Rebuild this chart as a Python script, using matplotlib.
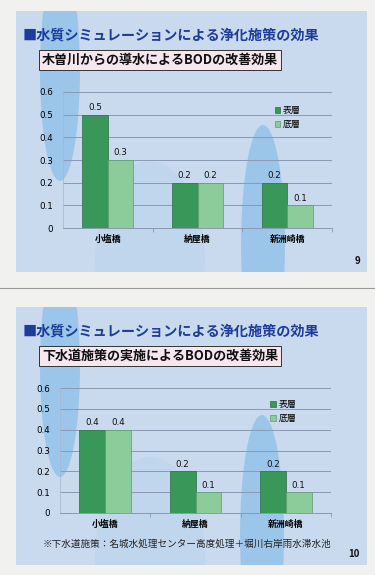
import matplotlib
matplotlib.use('Agg')
import matplotlib.pyplot as plt
import numpy as np
from matplotlib.patches import Rectangle, Ellipse

plt.rcParams['font.family'] = ['Noto Sans CJK JP', 'DejaVu Sans']

# data
sites = ['小塩橋', '納屋橋', '新洲崎橋']
series = ['表層', '底層']
surface_1 = [0.5, 0.2, 0.2]
bottom_1 = [0.3, 0.2, 0.1]
surface_2 = [0.4, 0.2, 0.2]
bottom_2 = [0.4, 0.1, 0.1]
yticks = [0, 0.1, 0.2, 0.3, 0.4, 0.5, 0.6]
ytick_labels = ['0', '0.1', '0.2', '0.3', '0.4', '0.5', '0.6']
main_title = '■水質シミュレーションによる浄化施策の効果'
sub_title_1 = '木曽川からの導水によるBODの改善効果'
sub_title_2 = '下水道施策の実施によるBODの改善効果'
footnote = '※下水道施策：名城水処理センター高度処理＋堀川右岸雨水滞水池'
pages = ['9', '10']

W, H = 375, 575
fig = plt.figure(figsize=(W / 100, H / 100), dpi=100)
fig.patch.set_facecolor('#f1f1ef')

# background canvas in pixel coordinates
bg = fig.add_axes([0, 0, 1, 1])
bg.set_xlim(0, W)
bg.set_ylim(H, 0)
bg.axis('off')

dark = '#3a975a'
light = '#8ccb9a'
slide_col = '#c9daef'
swoosh = '#8ec0e8'


def slide(y0, y1, page, sub, arch_x, arch_y):
    rect = Rectangle((16, y0), 351, y1 - y0, facecolor=slide_col, edgecolor='none', zorder=1)
    bg.add_patch(rect)
    # decorative swooshes
    for e in [Ellipse((60, y0 + 60), 40, 220, facecolor=swoosh, alpha=0.75, zorder=2),
              Ellipse((150, y0 + 250), 110, 200, facecolor=swoosh, alpha=0.15, zorder=2),
              Ellipse((arch_x, arch_y), 44, 240, facecolor=swoosh, alpha=0.75, zorder=2)]:
        bg.add_patch(e)
        e.set_clip_path(rect)
    bg.text(23, y0 + 25, main_title, fontsize=10.2, fontweight='bold', color='#1d3c9e',
            va='center', ha='left', zorder=5)
    bg.text(42, y0 + 49, sub, fontsize=9.4, fontweight='bold', color='#111111',
            va='center', ha='left', zorder=5,
            bbox=dict(boxstyle='square,pad=0.2', facecolor='#f6e6ee', edgecolor='#333333', linewidth=0.7))
    bg.text(360, y1 - 11, page, fontsize=7, fontweight='bold', color='#111111',
            ha='right', va='center', zorder=5)


slide(11, 272, pages[0], sub_title_1, 263, 245)
slide(307, 565, pages[1], sub_title_2, 262, 535)
bg.plot([0, W], [288, 288], color='#9a9a9a', linewidth=0.8, zorder=1)


def chart(rect, s1, s2, leg_y):
    ax = fig.add_axes(rect)
    ax.patch.set_alpha(0)
    x = np.arange(len(sites))
    w = 0.285
    b1 = ax.bar(x - w / 2, s1, w, color=dark, edgecolor='#2c6e44', linewidth=0.5, label=series[0], zorder=3)
    b2 = ax.bar(x + w / 2, s2, w, color=light, edgecolor='#5c9c6c', linewidth=0.5, label=series[1], zorder=3)
    for bars, vals in [(b1, s1), (b2, s2)]:
        for b, v in zip(bars, vals):
            ax.text(b.get_x() + b.get_width() / 2, v + 0.012, f'{v:.1f}', ha='center', va='bottom',
                    fontsize=6.3, color='#111111', family='DejaVu Sans')
    ax.set_xlim(-0.5, len(sites) - 0.5)
    ax.set_ylim(0, 0.6)
    ax.set_yticks(yticks)
    ax.set_yticklabels(ytick_labels, fontsize=6.3, family='DejaVu Sans')
    ax.tick_params(axis='y', length=0, pad=7)
    ax.set_xticks(x)
    ax.set_xticklabels(sites, fontsize=6.4, fontweight='bold')
    ax.tick_params(axis='x', length=0, pad=5)
    ax.set_xticks([0.5, 1.5, 2.5], minor=True)
    ax.tick_params(axis='x', which='minor', length=3, color='#8a98b4', width=0.6)
    ax.grid(axis='y', color='#8a98b4', linewidth=0.7, zorder=0)
    for s in ['top', 'right']:
        ax.spines[s].set_visible(False)
    ax.spines['left'].set_color('#a8b6cc')
    ax.spines['left'].set_linewidth(0.5)
    ax.spines['bottom'].set_color('#8a98b4')
    ax.spines['bottom'].set_linewidth(0.7)
    ax.legend(loc='upper left', bbox_to_anchor=leg_y, frameon=False, fontsize=6.4,
              handlelength=0.6, handleheight=0.6, handletextpad=0.3, labelspacing=0.6,
              borderpad=0)
    return ax


chart([63 / W, 1 - 228 / H, 269 / W, 136 / H], surface_1, bottom_1, (0.77, 0.93))
chart([60 / W, 1 - 513 / H, 271 / W, 125 / H], surface_2, bottom_2, (0.76, 0.94))

bg.text(43, 544, footnote, fontsize=6.9, color='#222222', va='center', ha='left', zorder=5)

fig.savefig('out.png', dpi=100, facecolor=fig.get_facecolor())
